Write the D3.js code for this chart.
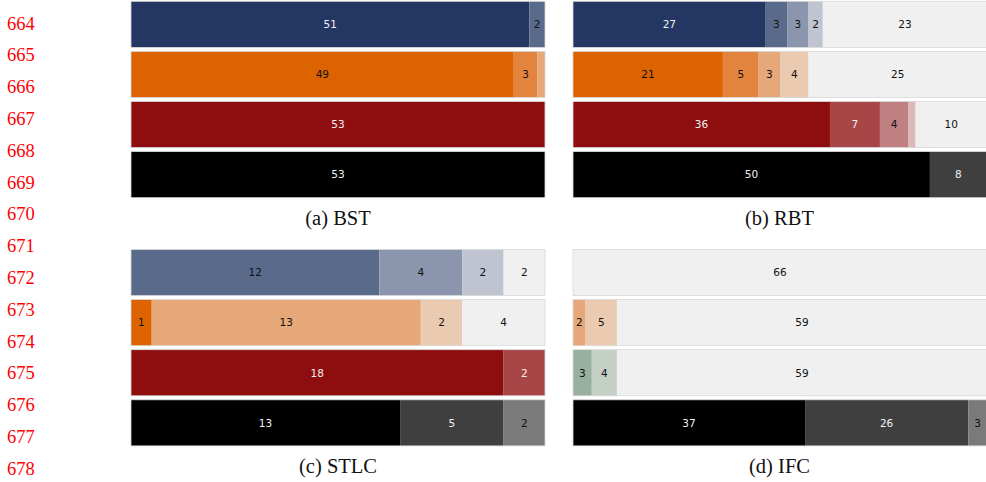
<!DOCTYPE html>
<html>
<head>
<meta charset="utf-8">
<script src="https://cdn.jsdelivr.net/npm/d3@7"></script>
<style>
  html, body { margin: 0; padding: 0; background: #ffffff; }
  svg { display: block; }
  .serif { font-family: "Liberation Serif", "Times New Roman", Times, "Nimbus Roman", "Nimbus Roman No9 L", "Tinos", "Noto Serif", "DejaVu Serif", "FreeSerif", serif; }
  .lab { font-family: "DejaVu Sans", sans-serif; }
</style>
</head>
<body>
<svg id="chart" width="986" height="482"></svg>
<script>
// Rows of every panel (one per tool), and the outcome levels stacked in each bar.
const rows = ["blue", "orange", "red", "black"];
const levels = ["l0", "l1", "l2", "l3", "fail"];

// Panel titles
const panelTitles = ["(a) BST", "(b) RBT", "(c) STLC", "(d) IFC"];

// Counts per row, in level order [l0, l1, l2, l3, fail]
const bstCounts = [
  [51, 2, 0, 0, 0],
  [49, 3, 1, 0, 0],
  [53, 0, 0, 0, 0],
  [53, 0, 0, 0, 0]
];
const rbtCounts = [
  [27, 3, 3, 2, 23],
  [21, 5, 3, 4, 25],
  [36, 7, 4, 1, 10],
  [50, 8, 0, 0, 0]
];
const stlcCounts = [
  [0, 12, 4, 2, 2],
  [1, 0, 13, 2, 4],
  [18, 2, 0, 0, 0],
  [13, 5, 2, 0, 0]
];
const ifcCounts = [
  [0, 0, 0, 0, 66],
  [0, 0, 2, 5, 59],
  [0, 0, 3, 4, 59],
  [37, 26, 3, 0, 0]
];

// Palette name used by each row of each panel
const bstPalettes = ["blue", "orange", "red", "black"];
const rbtPalettes = ["blue", "orange", "red", "black"];
const stlcPalettes = ["blue", "orange", "red", "black"];
const ifcPalettes = ["blue", "orange", "green", "black"];

// Line numbers in the left margin
const lineNumbers = d3.range(664, 679);

// Fill colours for each level of each palette, and the label ink on top of them
const palettes = {
  blue:   ["#243763", "#5a6a8a", "#8b96ae", "#bfc4d0", "#eff0ef"],
  orange: ["#dd6200", "#e3843e", "#e6a779", "#ebcab2", "#eff0ef"],
  red:    ["#8e0e0f", "#a84647", "#c07f80", "#dbb8b9", "#eff0ef"],
  black:  ["#000000", "#3f3f3f", "#7a7a7a", "#bdbdbd", "#eff0ef"],
  green:  ["#3a6a4a", "#6a8f76", "#98b09f", "#c4d0c6", "#eff0ef"]
};
const inks = {
  blue:   ["#f2f2f2", "#111111", "#111111", "#111111", "#111111"],
  orange: ["#111111", "#111111", "#111111", "#111111", "#111111"],
  red:    ["#f2f2f2", "#f2f2f2", "#111111", "#111111", "#111111"],
  black:  ["#f2f2f2", "#f2f2f2", "#111111", "#111111", "#111111"],
  green:  ["#f2f2f2", "#111111", "#111111", "#111111", "#111111"]
};

const panels = [
  { title: panelTitles[0], counts: bstCounts,  pal: bstPalettes,  x0: 131, x1: 545, y0: 1.3 },
  { title: panelTitles[1], counts: rbtCounts,  pal: rbtPalettes,  x0: 573, x1: 987, y0: 1.3 },
  { title: panelTitles[2], counts: stlcCounts, pal: stlcPalettes, x0: 131, x1: 545, y0: 249.5 },
  { title: panelTitles[3], counts: ifcCounts,  pal: ifcPalettes,  x0: 573, x1: 987, y0: 249.5 }
];

const svg = d3.select("#chart");

// Line numbers
svg.append("g")
  .selectAll("text")
  .data(lineNumbers)
  .join("text")
  .attr("class", "serif")
  .attr("x", 7)
  .attr("y", (d, i) => 29.5 + i * 31.8)
  .attr("fill", "#ff0000")
  .attr("font-size", 18.5)
  .text(d => d);

panels.forEach(p => {
  const total = d3.sum(p.counts[0]);
  const x = d3.scaleLinear().domain([0, total]).range([p.x0, p.x1]);
  const y = d3.scaleBand()
    .domain(rows)
    .range([p.y0 - 2, p.y0 + 198.4])
    .paddingInner(0.08)
    .paddingOuter(0.04);

  const g = svg.append("g");

  rows.forEach((r, ri) => {
    const vals = p.counts[ri];
    const palName = p.pal[ri];
    const stack = [];
    let acc = 0;
    vals.forEach((v, li) => {
      if (v > 0) stack.push({ level: levels[li], li, v, start: acc, end: acc + v });
      acc += v;
    });

    const rg = g.append("g");
    rg.selectAll("rect.seg")
      .data(stack)
      .join("rect")
      .attr("class", "seg")
      .attr("x", d => x(d.start))
      .attr("y", y(r))
      .attr("width", d => x(d.end) - x(d.start))
      .attr("height", y.bandwidth())
      .attr("fill", d => palettes[palName][d.li]);

    // faint outline round each bar
    rg.append("rect")
      .attr("x", x(0))
      .attr("y", y(r))
      .attr("width", x(acc) - x(0))
      .attr("height", y.bandwidth())
      .attr("fill", "none")
      .attr("stroke", "#d8d8d8")
      .attr("stroke-width", 0.8);

    rg.selectAll("text")
      .data(stack.filter(d => x(d.end) - x(d.start) > 10))
      .join("text")
      .attr("class", "lab")
      .attr("x", d => (x(d.start) + x(d.end)) / 2)
      .attr("y", y(r) + y.bandwidth() / 2)
      .attr("dy", "0.36em")
      .attr("text-anchor", "middle")
      .attr("font-size", 10.5)
      .attr("fill", d => inks[palName][d.li])
      .text(d => d.v);
  });

  g.append("text")
    .attr("class", "serif")
    .attr("x", (p.x0 + Math.min(p.x1, 986)) / 2)
    .attr("y", p.y0 + 223.7)
    .attr("text-anchor", "middle")
    .attr("font-size", 20.5)
    .attr("fill", "#111")
    .text(p.title);
});
</script>
</body>
</html>
